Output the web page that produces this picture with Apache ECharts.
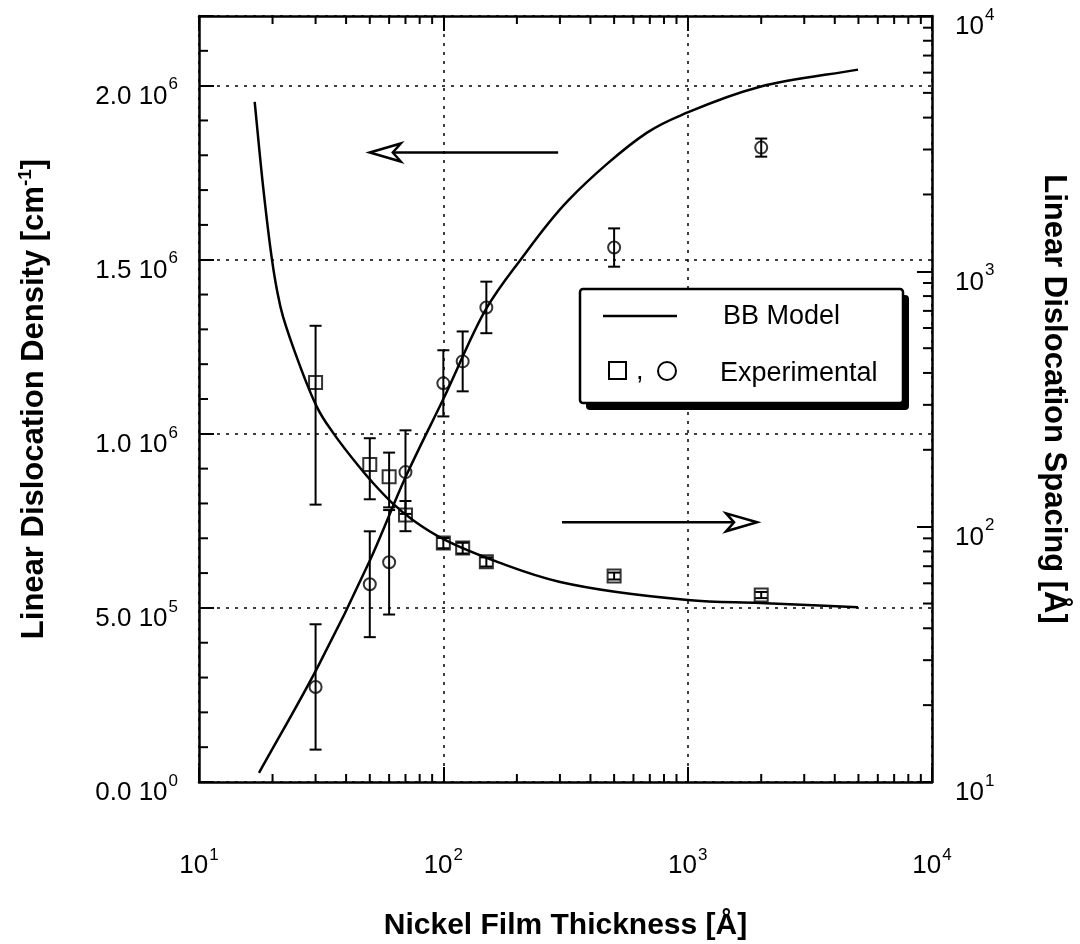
<!DOCTYPE html>
<html><head><meta charset="utf-8">
<script src="https://cdn.jsdelivr.net/npm/echarts@6.0.0/dist/echarts.min.js"></script>
<style>html,body{margin:0;padding:0;background:#fff}#c{width:1080px;height:944px}</style>
</head><body><div id="c"></div>
<script>
// ---- data ----
const thickCircle = [30, 50, 60, 70, 100, 120, 150, 500, 2000];
const densityExp  = [2.73e5, 5.68e5, 6.31e5, 8.9e5, 1.145e6, 1.208e6, 1.363e6, 1.535e6, 1.822e6];
const densityErr  = [1.8e5, 1.52e5, 1.5e5, 1.2e5, 0.95e5, 0.86e5, 0.74e5, 0.55e5, 0.26e5];

const thickSquare = [30, 50, 60, 70, 100, 120, 150, 500, 2000];
const spacingExp  = [367, 175, 157, 111, 86.3, 82.5, 72.8, 64.1, 54];
const spacingErr  = [245, 47, 38, 15, 4, 4, 3, 2, 1.5];

const modelThickD  = [17.6, 30.6, 50.1, 70, 100, 150, 206, 324, 682, 1000, 1978, 4981];
const modelDensity = [0.026e6, 0.33e6, 0.637e6, 0.875e6, 1.10e6, 1.36e6, 1.498e6, 1.67e6, 1.865e6, 1.923e6, 1.997e6, 2.046e6];

const modelThickS  = [16.9, 18.3, 19.9, 20.85, 22.1, 30.4, 35.4, 45.6, 51, 61.7, 75.2, 101.6, 170.6, 300.6, 1000, 1978, 4980];
const modelSpacing = [4612, 2143, 1109, 845, 662, 294, 233, 170, 150, 124, 106, 88.7, 72.1, 60.7, 51.6, 50.2, 48.4];

const xTicks = [10, 100, 1000, 10000];
const leftTicks = [0, 5e5, 1e6, 1.5e6, 2e6];
const rightTicks = [10, 100, 1000, 10000];

// annotation arrows (data units)
const arrowLeft  = {y: 1.808e6, from: 295, to: 50};
const arrowRight = {y: 104, from: 306, to: 1923};

// ---- helpers ----
const FONT = '"Liberation Sans", Arial, Helvetica, sans-serif';
const xMinor = [], yLeftMinor = [], yRightMinor = [];
for (const d of [10, 100, 1000]) for (let k = 2; k <= 9; k++) { xMinor.push(k * d); yRightMinor.push(k * d); }
for (let i = 1; i <= 21; i++) if (i % 5 !== 0) yLeftMinor.push(i * 1e5);

const supLabel = (mant, exp) => '{b|' + (mant ? mant + ' ' : '') + '10}{s|' + exp + '}';
// tokens given equal total heights so that their vertical placement is fixed by padding only
const yRich = {
  b: {fontSize: 26, fontFamily: FONT, color: '#000', lineHeight: 26, padding: [22, 0, 0, 0]},
  s: {fontSize: 17, fontFamily: FONT, color: '#000', lineHeight: 16, padding: [15, 0, 17, 1]}
};
const xRich = {
  b: {fontSize: 26, fontFamily: FONT, color: '#000', lineHeight: 26, padding: [6, 0, 0, 0]},
  s: {fontSize: 17, fontFamily: FONT, color: '#000', lineHeight: 16, padding: [0, 0, 16, 1]}
};
const titleRich = {
  t: {fontSize: 31, fontWeight: 'bold', fontFamily: FONT, color: '#000', lineHeight: 36},
  u: {fontSize: 19, fontWeight: 'bold', fontFamily: FONT, color: '#000', lineHeight: 19, padding: [0, 0, 17, 0]}
};
const dotted = {color: '#000', width: 1.5, type: [3, 6]};
const axisLine = {show: true, lineStyle: {color: '#000', width: 2.5}};

function tickSeries(data, xi, yi, dx, dy) {
  return {
    type: 'custom', xAxisIndex: xi, yAxisIndex: yi, silent: true, z: 6, clip: false,
    data: data,
    renderItem: (params, api) => {
      const p = api.coord([api.value(0), api.value(1)]);
      return {type: 'line', shape: {x1: p[0], y1: p[1], x2: p[0] + dx, y2: p[1] + dy},
        style: {stroke: '#000', lineWidth: 2}};
    }
  };
}
function errSeries(xs, ys, es, yi) {
  return {
    type: 'custom', xAxisIndex: 0, yAxisIndex: yi, silent: true, z: 4,
    data: xs.map((x, i) => [x, ys[i], es[i]]),
    encode: {x: 0, y: 1},
    renderItem: (params, api) => {
      const x = api.value(0), y = api.value(1), e = api.value(2);
      const t = api.coord([x, y + e]), b = api.coord([x, y - e]);
      const w = 6, st = {stroke: '#000', lineWidth: 2};
      return {type: 'group', children: [
        {type: 'line', shape: {x1: t[0], y1: t[1], x2: b[0], y2: b[1]}, style: st},
        {type: 'line', shape: {x1: t[0] - w, y1: t[1], x2: t[0] + w, y2: t[1]}, style: st},
        {type: 'line', shape: {x1: b[0] - w, y1: b[1], x2: b[0] + w, y2: b[1]}, style: st}
      ]};
    }
  };
}
// smooth curve through the model points (centripetal Catmull-Rom as cubic Beziers), positioned by the axes
function splinePath(pts) {
  const n = pts.length, a = 0.5;
  const ext = (p, q) => [2 * p[0] - q[0], 2 * p[1] - q[1]];
  const dist = (p, q) => Math.max(1e-6, Math.pow(Math.hypot(q[0] - p[0], q[1] - p[1]), a));
  let d = 'M' + pts[0][0] + ' ' + pts[0][1];
  for (let i = 0; i < n - 1; i++) {
    const p1 = pts[i], p2 = pts[i + 1];
    const p0 = i > 0 ? pts[i - 1] : ext(p1, p2);
    const p3 = i < n - 2 ? pts[i + 2] : ext(p2, p1);
    const d1 = dist(p0, p1), d2 = dist(p1, p2), d3 = dist(p2, p3);
    const b1 = [0, 1].map(k => (d1 * d1 * p2[k] - d2 * d2 * p0[k] + (2 * d1 * d1 + 3 * d1 * d2 + d2 * d2) * p1[k]) / (3 * d1 * (d1 + d2)));
    const b2 = [0, 1].map(k => (d3 * d3 * p1[k] - d2 * d2 * p3[k] + (2 * d3 * d3 + 3 * d3 * d2 + d2 * d2) * p2[k]) / (3 * d3 * (d3 + d2)));
    d += ' C' + b1[0] + ' ' + b1[1] + ' ' + b2[0] + ' ' + b2[1] + ' ' + p2[0] + ' ' + p2[1];
  }
  return d;
}
function curveSeries(name, xs, ys, yi) {
  return {
    type: 'custom', name: name, xAxisIndex: 0, yAxisIndex: yi, silent: true, z: 3,
    data: xs.map((x, i) => [x, ys[i]]), encode: {x: 0, y: 1},
    renderItem: (params, api) => {
      if (params.dataIndex !== 0) return null;
      const pts = xs.map((x, i) => api.coord([x, ys[i]]));
      return {type: 'path', shape: {pathData: splinePath(pts)},
        style: {stroke: '#000', lineWidth: 2.5, fill: null, lineJoin: 'round'}};
    }
  };
}

const chart = echarts.init(document.getElementById('c'), null, {renderer: 'canvas'});
const option = {
  animation: false,
  backgroundColor: '#fff',
  grid: {left: 199, right: 148, top: 16, bottom: 162, containLabel: false, outerBoundsMode: 'none'},
  xAxis: [
    {type: 'log', logBase: 10, min: 10, max: 10000, position: 'bottom',
     axisLine: axisLine,
     axisTick: {show: true, inside: true, length: 15, lineStyle: {color: '#000', width: 2}},
     axisLabel: {margin: 68, formatter: v => xTicks.includes(Math.round(v)) ? supLabel('', Math.round(Math.log10(v))) : '', rich: xRich},
     splitLine: {show: true, lineStyle: dotted},
     name: 'Nickel Film Thickness [Å]', nameLocation: 'middle', nameGap: 127,
     nameTextStyle: {fontSize: 30, fontWeight: 'bold', fontFamily: FONT, color: '#000', lineHeight: 34}},
    {type: 'log', logBase: 10, min: 10, max: 10000, position: 'top',
     axisLine: axisLine,
     axisTick: {show: true, inside: true, length: 15, lineStyle: {color: '#000', width: 2}},
     axisLabel: {show: false}, splitLine: {show: false}}
  ],
  yAxis: [
    {type: 'value', min: 0, max: 2.2e6, interval: 5e5, position: 'left',
     axisLine: axisLine,
     axisTick: {show: true, inside: true, length: 15, lineStyle: {color: '#000', width: 2}},
     axisLabel: {margin: 21, rich: yRich, formatter: v => {
       if (!leftTicks.includes(v)) return '';
       if (v === 0) return supLabel('0.0', 0);
       const e = Math.floor(Math.log10(v));
       return supLabel((v / Math.pow(10, e)).toFixed(1), e);
     }},
     splitLine: {show: true, lineStyle: dotted},
     name: '{t|Linear Dislocation Density [cm}{u|-1}{t|]}', nameLocation: 'middle', nameGap: 147,
     nameTextStyle: {rich: titleRich}},
    {type: 'log', logBase: 10, min: 10, max: 10000, position: 'right',
     axisLine: axisLine,
     axisTick: {show: true, inside: true, length: 15, lineStyle: {color: '#000', width: 2}},
     axisLabel: {margin: 23, rich: yRich, formatter: v => rightTicks.includes(Math.round(v)) ? supLabel('', Math.round(Math.log10(v))) : ''},
     splitLine: {show: false},
     name: '{t|Linear Dislocation Spacing [Å]}', nameLocation: 'middle', nameGap: 104, nameRotate: -90,
     nameTextStyle: {rich: titleRich}}
  ],
  series: [
    tickSeries(xMinor.map(v => [v, 0]), 0, 0, 0, -8),
    tickSeries(xMinor.map(v => [v, 2.2e6]), 0, 0, 0, 8),
    tickSeries(yLeftMinor.map(v => [10, v]), 0, 0, 9, 0),
    tickSeries(yRightMinor.map(v => [10000, v]), 0, 1, -9, 0),
    curveSeries('BB Model density', modelThickD, modelDensity, 0),
    curveSeries('BB Model spacing', modelThickS, modelSpacing, 1),
    errSeries(thickCircle, densityExp, densityErr, 0),
    errSeries(thickSquare, spacingExp, spacingErr, 1),
    {type: 'scatter', name: 'Experimental density', xAxisIndex: 0, yAxisIndex: 0, z: 5,
     data: thickCircle.map((x, i) => [x, densityExp[i]]),
     symbol: 'circle', symbolSize: 12,
     itemStyle: {color: 'rgba(0,0,0,0)', borderColor: '#000', borderWidth: 2}},
    {type: 'scatter', name: 'Experimental spacing', xAxisIndex: 0, yAxisIndex: 1, z: 5,
     data: thickSquare.map((x, i) => [x, spacingExp[i]]),
     symbol: 'rect', symbolSize: 13,
     itemStyle: {color: 'rgba(0,0,0,0)', borderColor: '#000', borderWidth: 2}}
  ]
};
chart.setOption(option);

// ---- annotations: arrows + legend box ----
const px = (x, y, yi) => chart.convertToPixel({xAxisIndex: 0, yAxisIndex: yi}, [x, y]);
const st = {stroke: '#000', lineWidth: 2.5, fill: '#fff'};
function arrow(a, yi, dir) {
  const s = px(a.from, a.y, yi), t = px(a.to, a.y, yi);
  const len = 31, notch = 23, h = 9;
  const back = t[0] - dir * len, nx = t[0] - dir * notch;
  return [
    {type: 'line', shape: {x1: s[0], y1: s[1], x2: nx, y2: s[1]}, style: {stroke: '#000', lineWidth: 2.5}, z: 10},
    {type: 'polygon', shape: {points: [[t[0], t[1]], [back, t[1] - h], [nx, t[1]], [back, t[1] + h]]}, style: st, z: 10}
  ];
}
const legendFont = '27px ' + FONT;
const graphics = [].concat(
  arrow(arrowLeft, 0, -1),
  arrow(arrowRight, 1, 1),
  [
    {type: 'rect', shape: {x: 586, y: 295, width: 323, height: 115, r: 4}, style: {fill: '#000'}, z: 20},
    {type: 'rect', shape: {x: 580, y: 289, width: 323, height: 114, r: 3}, style: {fill: '#fff', stroke: '#000', lineWidth: 2.5}, z: 21},
    {type: 'line', shape: {x1: 603, y1: 316, x2: 677, y2: 316}, style: {stroke: '#000', lineWidth: 2.5}, z: 22},
    {type: 'text', x: 723, y: 317, style: {text: 'BB Model', font: legendFont, fill: '#000', verticalAlign: 'middle'}, z: 22},
    {type: 'rect', shape: {x: 609, y: 362, width: 17, height: 17}, style: {fill: 'none', stroke: '#000', lineWidth: 2}, z: 22},
    {type: 'text', x: 636, y: 372, style: {text: ',', font: legendFont, fill: '#000', verticalAlign: 'middle'}, z: 22},
    {type: 'circle', shape: {cx: 667, cy: 371, r: 9}, style: {fill: 'none', stroke: '#000', lineWidth: 2}, z: 22},
    {type: 'text', x: 720, y: 374, style: {text: 'Experimental', font: legendFont, fill: '#000', verticalAlign: 'middle'}, z: 22}
  ]
);
chart.setOption({graphic: graphics});
</script>
</body></html>
